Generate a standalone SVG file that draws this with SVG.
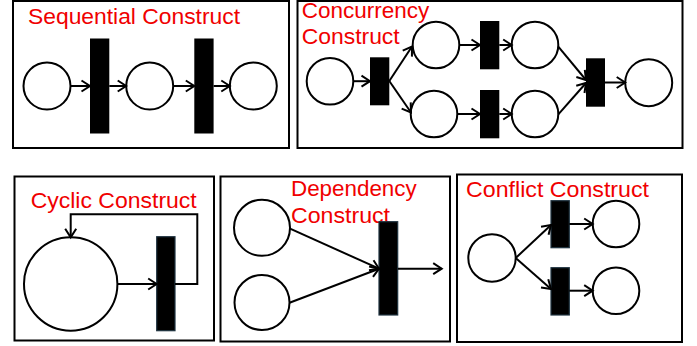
<svg xmlns="http://www.w3.org/2000/svg" width="697" height="346" viewBox="0 0 697 346">
<style>
.frame{fill:#fff;stroke:#000;stroke-width:2}
.place{fill:#fff;stroke:#000;stroke-width:2}
.trans{fill:#000;stroke:none}
.trans2{fill:#000;stroke:#1f3340;stroke-width:1.2}
.arc{fill:none;stroke:#000;stroke-width:2;marker-end:url(#ah)}
.lbl{font-family:"Liberation Sans",Arial,sans-serif;font-size:21.5px;fill:#f00000}
</style>
<defs>
<marker id="ah" markerUnits="userSpaceOnUse" markerWidth="14" markerHeight="14" refX="10" refY="7" orient="auto" viewBox="0 0 14 14">
<path d="M1.5,1.5 L10,7 L1.5,12.5" fill="none" stroke="#000" stroke-width="2"/>
</marker>
</defs>
<rect width="697" height="346" fill="#fff"/>

<g id="sequential">
<rect class="frame" x="13" y="1" width="276" height="147"/>
<text class="lbl" x="28" y="24" textLength="212" lengthAdjust="spacingAndGlyphs">Sequential Construct</text>
<circle class="place" cx="47" cy="86" r="23.5"/>
<rect class="trans" x="90" y="38.5" width="19.3" height="95"/>
<circle class="place" cx="149.7" cy="86" r="23.5"/>
<rect class="trans" x="194.3" y="38.5" width="19.3" height="95"/>
<circle class="place" cx="253.3" cy="86" r="23.5"/>
</g>

<g id="concurrency">
<rect class="frame" x="297.5" y="1" width="385" height="147"/>
<text class="lbl" x="301.7" y="17.5" textLength="127.6" lengthAdjust="spacingAndGlyphs">Concurrency</text>
<text class="lbl" x="301.7" y="44" textLength="98" lengthAdjust="spacingAndGlyphs">Construct</text>
<circle class="place" cx="330" cy="81.2" r="23.3"/>
<rect class="trans" x="370" y="57.3" width="19.3" height="48"/>
<circle class="place" cx="436" cy="45" r="23.3"/>
<circle class="place" cx="434" cy="114" r="23.3"/>
<rect class="trans" x="480" y="21" width="19.3" height="48.3"/>
<rect class="trans" x="480" y="90" width="19.3" height="48.3"/>
<circle class="place" cx="535" cy="45" r="23.3"/>
<circle class="place" cx="535" cy="114" r="23.3"/>
<rect class="trans" x="586" y="58.3" width="19" height="48.4"/>
<circle class="place" cx="648.7" cy="82.7" r="23.5"/>
</g>

<g id="cyclic">
<rect class="frame" x="14.5" y="176.5" width="199.5" height="164"/>
<text class="lbl" x="30.7" y="208.3" textLength="166" lengthAdjust="spacingAndGlyphs">Cyclic Construct</text>
<circle class="place" cx="70.7" cy="284" r="46.7"/>
<rect class="trans2" x="156.7" y="236.7" width="18.3" height="94"/>
</g>

<g id="dependency">
<rect class="frame" x="220.5" y="176.5" width="229.5" height="165"/>
<text class="lbl" x="291" y="196" textLength="125.7" lengthAdjust="spacingAndGlyphs">Dependency</text>
<text class="lbl" x="291" y="222.7" textLength="99" lengthAdjust="spacingAndGlyphs">Construct</text>
<circle class="place" cx="262" cy="227.8" r="28"/>
<circle class="place" cx="262" cy="302.5" r="27.5"/>
<rect class="trans2" x="379" y="221.7" width="18.7" height="93.3"/>
</g>

<g id="conflict">
<rect class="frame" x="457" y="174.5" width="225" height="167.5"/>
<text class="lbl" x="466" y="196.7" textLength="183" lengthAdjust="spacingAndGlyphs">Conflict Construct</text>
<circle class="place" cx="492" cy="258" r="23.7"/>
<rect class="trans2" x="551" y="200.7" width="18.3" height="47"/>
<rect class="trans2" x="551" y="267.7" width="18.3" height="47.3"/>
<circle class="place" cx="616" cy="224" r="23.3"/>
<circle class="place" cx="616" cy="290.7" r="23.3"/>
</g>

<g id="connectors">
<line class="arc" x1="70.5" y1="86" x2="90" y2="86"/>
<line class="arc" x1="109.3" y1="86" x2="126.2" y2="86"/>
<line class="arc" x1="173.2" y1="86" x2="194.3" y2="86"/>
<line class="arc" x1="213.6" y1="86" x2="229.8" y2="86"/>

<line class="arc" x1="353.3" y1="81.2" x2="370" y2="81.2"/>
<line class="arc" x1="389.3" y1="81" x2="412" y2="46.5"/>
<line class="arc" x1="389.3" y1="81" x2="411" y2="112.5"/>
<line class="arc" x1="459.3" y1="45" x2="480" y2="45"/>
<line class="arc" x1="457.3" y1="114" x2="480" y2="114"/>
<line class="arc" x1="499.3" y1="45" x2="511.7" y2="45"/>
<line class="arc" x1="499.3" y1="114" x2="511.7" y2="114"/>
<line class="arc" x1="558.3" y1="46.7" x2="586" y2="80"/>
<line class="arc" x1="558.3" y1="114.3" x2="586" y2="83"/>
<line class="arc" x1="605" y1="82.5" x2="625.2" y2="82.5"/>

<line class="arc" x1="117.4" y1="284" x2="156.7" y2="284"/>
<polyline class="arc" points="175,284 197.3,284 197.3,214.3 70.7,214.3 70.7,237.3"/>

<line class="arc" x1="289.5" y1="228.3" x2="379" y2="268.7"/>
<line class="arc" x1="289.5" y1="302.7" x2="379" y2="268.7"/>
<line class="arc" x1="397.7" y1="268.7" x2="441.7" y2="268.7"/>

<line class="arc" x1="515.7" y1="258" x2="551" y2="225"/>
<line class="arc" x1="515.7" y1="258" x2="551" y2="289"/>
<line class="arc" x1="569.3" y1="224" x2="592.7" y2="224"/>
<line class="arc" x1="569.3" y1="290.7" x2="592.7" y2="290.7"/>
</g>
</svg>
